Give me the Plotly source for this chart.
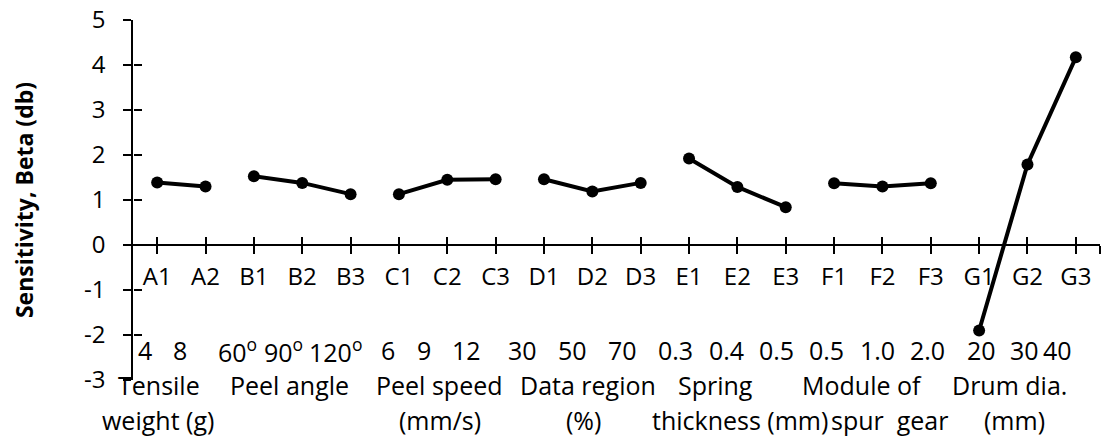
import plotly.graph_objects as go

# ---- data ----
categories = ["A1", "A2", "B1", "B2", "B3", "C1", "C2", "C3", "D1", "D2", "D3",
              "E1", "E2", "E3", "F1", "F2", "F3", "G1", "G2", "G3"]
groups = [["A1", "A2"], ["B1", "B2", "B3"], ["C1", "C2", "C3"], ["D1", "D2", "D3"],
          ["E1", "E2", "E3"], ["F1", "F2", "F3"], ["G1", "G2", "G3"]]
beta = {"A1": 1.39, "A2": 1.30,
        "B1": 1.53, "B2": 1.38, "B3": 1.13,
        "C1": 1.13, "C2": 1.45, "C3": 1.46,
        "D1": 1.46, "D2": 1.19, "D3": 1.38,
        "E1": 1.92, "E2": 1.29, "E3": 0.84,
        "F1": 1.37, "F2": 1.30, "F3": 1.37,
        "G1": -1.90, "G2": 1.79, "G3": 4.17}
level_labels = ["4", "8", "60<sup>o</sup>", "90<sup>o</sup>", "120<sup>o</sup>",
                "6", "9", "12", "30", "50", "70", "0.3", "0.4", "0.5",
                "0.5", "1.0", "2.0", "20", "30", "40"]
factor_line1 = ["Tensile", "Peel angle", "Peel speed", "Data region", "Spring",
                "Module of", "Drum dia."]
factor_line2 = ["weight (g)", "", "(mm/s)", "(%)", "thickness (mm)", "spur  gear", "(mm)"]
y_ticks = [-3, -2, -1, 0, 1, 2, 3, 4, 5]
y_ticktext = ["-3", "-2", "-1", "0", "1", "2", "3", "4", "5"]

# ---- layout (screen pixel positions; body margin removed by post_script) ----
W, H = 1103, 437
PL, PR, PT, PB = 133, 1100, 20, 380          # plot area on screen
L, R, T, B = PL, W - PR, PT, H - PB
n = len(categories)
cat_w = (PR - PL) / n


def px_to_x(px):
    return (px - PL) / cat_w - 0.5


def py_to_paper(py):
    return (PB - py) / (PB - PT)


level_px = [145, 180, 237, 283, 335, 388, 424, 466, 522, 572, 622,
            675, 726, 776, 826, 877, 927, 981, 1024, 1057]
line1_px = [159, 289, 439, 588, 715, 862, 1009]
line2_px = [158, 289, 440, 583, 740, 889, 1014]

FONT = "Open Sans, Calibri, sans-serif"
fs = 24
fs_ann = 25

fig = go.Figure()
idx = {c: i for i, c in enumerate(categories)}
for g in groups:
    fig.add_trace(go.Scatter(
        x=[idx[c] for c in g], y=[beta[c] for c in g],
        mode="lines+markers",
        line=dict(color="black", width=4),
        marker=dict(color="black", size=12),
        showlegend=False, hoverinfo="y", cliponaxis=False))

# invisible trace for overlay axes (inside half of cross ticks)
fig.add_trace(go.Scatter(x=[0], y=[0], xaxis="x2", yaxis="y2", mode="markers",
                         marker=dict(opacity=0), showlegend=False, hoverinfo="skip"))

tickvals = list(range(n)) + [n - 0.5]
ticktext = categories + [""]
xpos = (0 - y_ticks[0]) / (y_ticks[-1] - y_ticks[0])

common_x = dict(range=[-0.5, n - 0.5], tickvals=tickvals, fixedrange=True,
                anchor="free", position=xpos, showgrid=False, zeroline=False,
                ticklen=8, tickwidth=1.5, tickcolor="black", automargin=False,
                ticklabeloverflow="allow")
common_y = dict(range=[y_ticks[0], y_ticks[-1]], tickvals=y_ticks, showgrid=False,
                zeroline=False, ticklen=8, tickwidth=1.5, tickcolor="black",
                automargin=False, fixedrange=True, ticklabeloverflow="allow")

fig.update_layout(
    width=W, height=H,
    margin=dict(l=L, r=R, t=T, b=B, autoexpand=False),
    paper_bgcolor="white", plot_bgcolor="white",
    font=dict(family=FONT, size=fs, color="black"),
    xaxis=dict(**common_x, ticktext=ticktext, ticks="outside",
               showline=True, linecolor="black", linewidth=1.5,
               tickfont=dict(size=fs), ticklabelstandoff=2),
    xaxis2=dict(**common_x, overlaying="x", ticks="inside", showticklabels=False,
                showline=False),
    yaxis=dict(**common_y, ticktext=y_ticktext, ticks="outside", showline=True,
               linecolor="black", linewidth=1.5, tickfont=dict(size=fs),
               ticklabelstandoff=13,
               title=dict(text="<b>Sensitivity, Beta (db)</b>", font=dict(size=23),
                          standoff=44)),
    yaxis2=dict(**common_y, overlaying="y", anchor="free", position=0, side="left",
                ticks="inside", showticklabels=False, showline=False),
)

ann = []
for lab, px in zip(level_labels, level_px):
    ann.append(dict(x=px_to_x(px), y=py_to_paper(350), xref="x", yref="paper", text=lab,
                    showarrow=False, font=dict(size=fs_ann), xanchor="center", yanchor="middle"))
for lab, px in zip(factor_line1, line1_px):
    ann.append(dict(x=px_to_x(px), y=py_to_paper(385), xref="x", yref="paper", text=lab,
                    showarrow=False, font=dict(size=fs_ann), xanchor="center", yanchor="middle"))
for lab, px in zip(factor_line2, line2_px):
    if lab:
        ann.append(dict(x=px_to_x(px), y=py_to_paper(420), xref="x", yref="paper", text=lab,
                        showarrow=False, font=dict(size=fs_ann), xanchor="center", yanchor="middle"))
fig.update_layout(annotations=ann)

fig.write_html("out.html", config={"displayModeBar": False},
               post_script="document.body.style.margin='0';document.body.style.overflow='hidden';")
